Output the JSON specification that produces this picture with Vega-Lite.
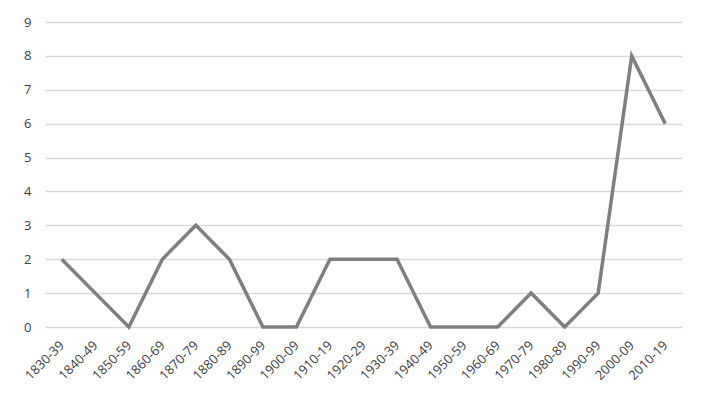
{
  "$schema": "https://vega.github.io/schema/vega-lite/v6.json",
  "autosize": {"type": "none"},
  "padding": {"left": 45, "top": 22, "right": 21, "bottom": 84},
  "width": 637,
  "height": 305,
  "background": "white",
  "config": {
    "view": {"stroke": null},
    "font": "Open Sans"
  },
  "data": {
    "values": [
      {"decade": "1830-39", "count": 2},
      {"decade": "1840-49", "count": 1},
      {"decade": "1850-59", "count": 0},
      {"decade": "1860-69", "count": 2},
      {"decade": "1870-79", "count": 3},
      {"decade": "1880-89", "count": 2},
      {"decade": "1890-99", "count": 0},
      {"decade": "1900-09", "count": 0},
      {"decade": "1910-19", "count": 2},
      {"decade": "1920-29", "count": 2},
      {"decade": "1930-39", "count": 2},
      {"decade": "1940-49", "count": 0},
      {"decade": "1950-59", "count": 0},
      {"decade": "1960-69", "count": 0},
      {"decade": "1970-79", "count": 1},
      {"decade": "1980-89", "count": 0},
      {"decade": "1990-99", "count": 1},
      {"decade": "2000-09", "count": 8},
      {"decade": "2010-19", "count": 6}
    ]
  },
  "mark": {"type": "line", "color": "#7f7f7f", "strokeWidth": 3.5, "strokeJoin": "miter"},
  "encoding": {
    "x": {
      "field": "decade",
      "type": "ordinal",
      "sort": null,
      "title": null,
      "scale": {"type": "point", "padding": 0.5},
      "axis": {
        "labelAngle": -45,
        "labelAlign": "right",
        "labelBaseline": "middle",
        "labelFontSize": 13,
        "labelColor": "#404040",
        "labelPadding": 16,
        "ticks": false,
        "domain": false,
        "grid": false
      }
    },
    "y": {
      "field": "count",
      "type": "quantitative",
      "title": null,
      "scale": {"domain": [0, 9]},
      "axis": {
        "values": [0, 1, 2, 3, 4, 5, 6, 7, 8, 9],
        "labelFontSize": 13,
        "labelColor": "#404040",
        "labelPadding": 14,
        "ticks": false,
        "domain": false,
        "grid": true,
        "gridColor": "#d9d9d9",
        "gridWidth": 1.3
      }
    }
  }
}
